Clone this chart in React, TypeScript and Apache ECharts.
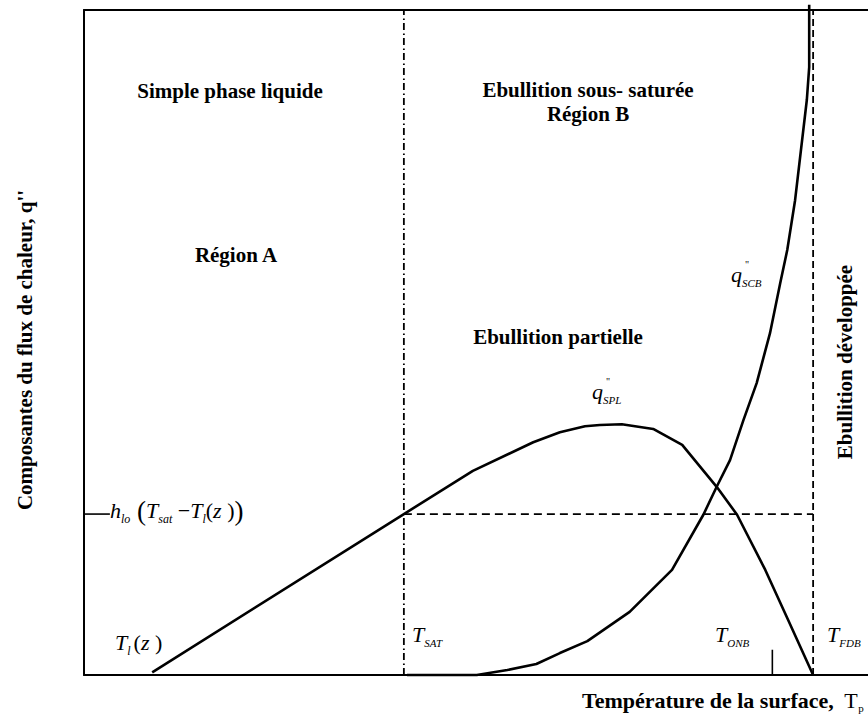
import React, { useEffect, useRef } from "react";
import * as echarts from "echarts";

// Characteristic temperatures along the surface-temperature axis (arbitrary units)
const T_L = 8.7;
const T_SAT = 40.8;
const T_ONB = 87.8;
const T_FDB = 93.0;
// Single-phase flux level h_lo (T_sat - T_l(z))
const H_LEVEL = 24.2;
const ONB_TICK = 3.8;
const Y_TICK_LEN = 3.3;

// Single-phase (partial boiling) component q''_SPL
const splTemps = [T_L, 40.8, 49.6, 57.3, 60.7, 63.9, 65.8, 68.6, 72.6, 76.3, 80.7, 83.3, 86.9, 89.8, 93.0];
const splFlux = [0.4, 24.2, 30.7, 35.0, 36.5, 37.4, 37.6, 37.7, 37.0, 34.6, 28.3, 24.1, 15.8, 8.3, 0];

// Sub-cooled boiling component q''_SCB
const scbTemps = [41.2, 50.1, 54.0, 57.7, 60.7, 64.2, 69.6, 75.0, 79.0, 80.7, 82.4, 84.1, 85.8, 87.5, 88.8, 89.7, 90.7, 92.2, 92.5, 92.5];
const scbFlux = [0, 0, 0.75, 1.65, 3.3, 5.1, 9.5, 15.8, 24.1, 28.3, 32.3, 38.3, 43.9, 51.4, 58.9, 63.9, 71.4, 86.5, 91.4, 100.8];

const SERIF = '"Liberation Serif", "Times New Roman", serif';

const zip = (xs: number[], ys: number[]) => xs.map((x, i) => [x, ys[i]]);

const rich = {
  i: { fontFamily: SERIF, fontStyle: "italic", fontSize: 22, lineHeight: 28, fill: "#000" },
  n: { fontFamily: SERIF, fontSize: 22, lineHeight: 28, fill: "#000" },
  p: { fontFamily: SERIF, fontSize: 27, lineHeight: 28, fill: "#000" },
  s: { fontFamily: SERIF, fontStyle: "italic", fontSize: 12, lineHeight: 12, verticalAlign: "bottom", fill: "#000" },
  c: { fontFamily: SERIF, fontStyle: "italic", fontSize: 11, lineHeight: 12, verticalAlign: "bottom", fill: "#000" },
  b: { fontFamily: SERIF, fontWeight: "bold", fontSize: 22, lineHeight: 26, fill: "#000" },
  t: { fontFamily: SERIF, fontSize: 22, lineHeight: 26, fill: "#000" },
  ps: { fontFamily: SERIF, fontSize: 11, lineHeight: 11, verticalAlign: "bottom", fill: "#000" },
};

// math label placed by its left edge and the baseline of its main glyphs
const mathLabel = (text: string, x: number, baseline: number) => ({
  type: "text",
  x,
  y: baseline - 21.5,
  silent: true,
  style: { text, rich, align: "left", verticalAlign: "top" },
});

const boldLabel = (text: string, x: number, y: number, rotation = 0) => ({
  type: "text",
  x,
  y,
  rotation,
  silent: true,
  style: {
    text,
    fontFamily: SERIF,
    fontWeight: "bold",
    fontSize: 21,
    lineHeight: 24,
    fill: "#000",
    align: "center",
    verticalAlign: "middle",
  },
});

const prime = (x: number, y: number) => ({
  type: "text",
  x,
  y,
  silent: true,
  style: { text: '"', fontFamily: SERIF, fontSize: 10, fill: "#000", align: "left", verticalAlign: "middle" },
});

const curve = (data: number[][]) => ({
  type: "line",
  data,
  symbol: "none",
  clip: false,
  lineStyle: { color: "#000", width: 2.6, join: "round" },
  z: 5,
});

const guide = (data: number[][], dash: number[], width = 1.8) => ({
  type: "line",
  data,
  symbol: "none",
  clip: false,
  lineStyle: { color: "#000", width, type: dash },
  z: 3,
});

const hiddenAxis = {
  type: "value",
  min: 0,
  max: 100,
  axisLine: { show: true, onZero: false, lineStyle: { color: "#000", width: 2 } },
  axisTick: { show: false },
  axisLabel: { show: false },
  splitLine: { show: false },
};

export default function App() {
  const ref = useRef<HTMLDivElement>(null);

  useEffect(() => {
    if (!ref.current) return;
    const chart = echarts.init(ref.current, undefined, { renderer: "svg" });
    chart.setOption({
      animation: false,
      backgroundColor: "#fff",
      grid: { left: 84, right: 0, top: 10, bottom: 43 },
      xAxis: [
        { ...hiddenAxis, position: "bottom" },
        { ...hiddenAxis, position: "top" },
      ],
      yAxis: { ...hiddenAxis },
      series: [
        curve(zip(splTemps, splFlux)),
        curve(zip(scbTemps, scbFlux)),
        guide([[T_SAT, 0], [T_SAT, 100]], [7, 3, 1.5, 3.5]),
        guide([[T_FDB, 0], [T_FDB, 100]], [7, 4]),
        guide([[T_SAT, H_LEVEL], [T_FDB, H_LEVEL]], [8, 5]),
        guide([[T_ONB, 0], [T_ONB, ONB_TICK]], [], 1.6),
        guide([[0, H_LEVEL], [Y_TICK_LEN, H_LEVEL]], [], 1.6),
      ],
      graphic: [
        boldLabel("Simple phase liquide", 230, 91),
        boldLabel("Ebullition sous- saturée\nRégion B", 588, 102),
        boldLabel("Région A", 236, 255),
        boldLabel("Ebullition partielle", 558, 337),
        boldLabel("Ebullition développée", 845, 362, Math.PI / 2),
        boldLabel("Composantes du flux de chaleur, q''", 25, 350, Math.PI / 2),
        mathLabel("{i|T}{s|l }{n|(}{i|z }{n|)}", 115, 650),
        mathLabel("{i|h}{s|lo}{p| (}{i|T}{s|sat}{n| −}{i|T}{s|l}{n|(}{i|z }{n|)}{p|)}", 110, 518),
        mathLabel("{i|T}{c|SAT}", 412, 642),
        mathLabel("{i|T}{c|ONB}", 715, 642),
        mathLabel("{i|T}{c|FDB}", 827, 642),
        mathLabel("{i|q}{c|SPL}", 592, 399),
        mathLabel("{i|q}{c|SCB}", 731, 282),
        prime(606, 381),
        prime(745, 264),
        {
          type: "text",
          x: 582,
          y: 707 - 20,
          silent: true,
          style: {
            text: "{b|Température de la surface,}{t|  T}{ps|p}",
            rich,
            align: "left",
            verticalAlign: "top",
          },
        },
      ],
    });
    return () => chart.dispose();
  }, []);

  return (
    <div
      ref={ref}
      style={{ position: "absolute", left: 0, top: 0, width: 868, height: 718 }}
    />
  );
}
